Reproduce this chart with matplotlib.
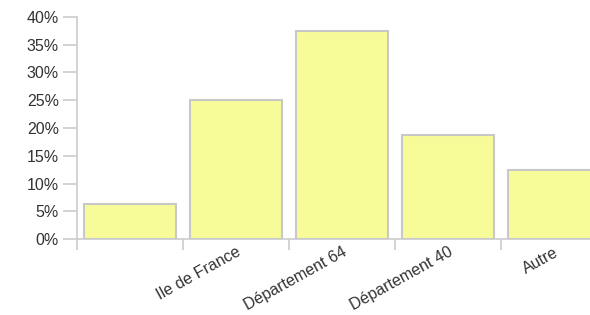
import matplotlib
matplotlib.use("Agg")
import matplotlib.pyplot as plt
from matplotlib.ticker import FuncFormatter

categories = ["", "Ile de France", "Département 64", "Département 40", "Autre"]
values = [6.25, 25.0, 37.5, 18.75, 12.5]

plt.rcParams['font.family'] = ['Liberation Sans', 'DejaVu Sans']

fig = plt.figure(figsize=(5.9, 3.15), dpi=100)
ax = fig.add_axes([77 / 590, 76 / 315, 530 / 590, 222 / 315])

x = list(range(len(categories)))
ax.bar(x, values, width=0.86, color="#f8fc98", edgecolor="#c8c8c8", linewidth=1.5, zorder=3)

ax.set_xlim(-0.5, len(categories) - 0.5)
ax.set_ylim(0, 40)
ax.set_yticks(range(0, 41, 5))
ax.yaxis.set_major_formatter(FuncFormatter(lambda v, p: f"{int(v)}%"))

ax.set_xticks([i - 0.5 for i in x])
ax.set_xticklabels([])
ax.set_xticks(x, minor=True)
ax.set_xticklabels(categories, minor=True, rotation=29, ha="right", rotation_mode="anchor")

for s in ["top", "right"]:
    ax.spines[s].set_visible(False)
for s in ["left", "bottom"]:
    ax.spines[s].set_color("#cccccc")
    ax.spines[s].set_linewidth(1.2)

ax.tick_params(axis="y", length=10, width=1.2, color="#cccccc", labelsize=11.5, labelcolor="#333333", pad=3)
ax.tick_params(axis="x", which="major", length=8, width=1.2, color="#cccccc")
ax.tick_params(axis="x", which="minor", length=0, labelsize=11.5, labelcolor="#333333", pad=4)

fig.savefig("out.png", dpi=100)
